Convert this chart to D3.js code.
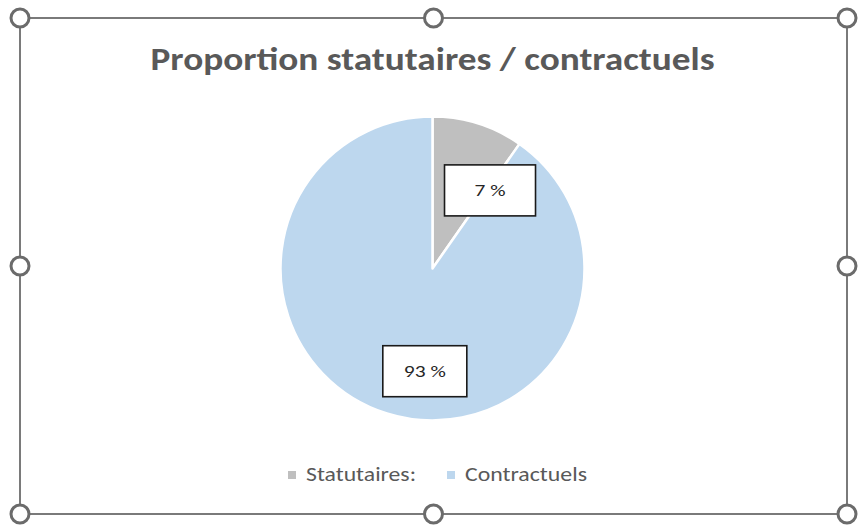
<!DOCTYPE html>
<html>
<head>
<meta charset="utf-8">
<script src="https://cdn.jsdelivr.net/npm/d3@7"></script>
<style>
  html, body { margin: 0; padding: 0; background: #fff; }
  svg { display: block; }
</style>
</head>
<body>
<div id="chart"></div>
<script>
// Pie chart — share of statutory vs contract staff (Excel-style, with selection frame).

const categories = ["Statutaires:", "Contractuels"];
const shares = [9.7, 90.3];            // slice sizes as drawn
const labelTexts = ["7 %", "93 %"];    // data labels as printed on the chart
const colors = ["#bfbfbf", "#bdd7ee"];
const title = "Proportion statutaires / contractuels";

(function () {
  "use strict";
  const W = 862, H = 528;
  const frame = { x0: 20, y0: 18, x1: 847, y1: 514 };
  const cx = 432.5, cy = 268.5, R = 152;
  const font = "Calibri, Carlito, 'Noto Sans', 'Liberation Sans', sans-serif";

  const svg = d3.select("#chart").append("svg").attr("width", W).attr("height", H);

  // chart area border
  svg.append("rect")
    .attr("x", frame.x0).attr("y", frame.y0)
    .attr("width", frame.x1 - frame.x0).attr("height", frame.y1 - frame.y0)
    .attr("fill", "#fff").attr("stroke", "#7a7a7a").attr("stroke-width", 2);

  // title
  svg.append("text")
    .attr("x", cx).attr("y", 70).attr("text-anchor", "middle")
    .attr("fill", "#595959").style("font-family", font)
    .style("font-size", "32px").style("font-weight", 700)
    .attr("textLength", 564).attr("lengthAdjust", "spacingAndGlyphs")
    .text(title);

  // pie
  const data = categories.map((c, i) => ({ name: c, value: shares[i], label: labelTexts[i], color: colors[i] }));
  const pie = d3.pie().value((d) => d.value).sort(null);
  const arc = d3.arc().innerRadius(0).outerRadius(R);
  const arcs = pie(data);
  const g = svg.append("g").attr("transform", `translate(${cx},${cy})`);
  g.selectAll("path").data(arcs).join("path")
    .attr("d", arc).attr("fill", (d) => d.data.color)
    .attr("stroke", "#fff").attr("stroke-width", 2.5).attr("stroke-linejoin", "round");

  // data labels: boxes placed along each slice (nudged like the dragged Excel labels)
  const labelPlace = [
    { r: 97, angleShift: 0.33, w: 91, tw: 31 },
    { r: 103, angleShift: -0.23, w: 84, tw: 42 },
  ];
  arcs.forEach((a, i) => {
    const p = labelPlace[i];
    const ang = (a.startAngle + a.endAngle) / 2 + p.angleShift;
    const lx = Math.sin(ang) * p.r, ly = -Math.cos(ang) * p.r;
    const bh = 51;
    g.append("rect")
      .attr("x", lx - p.w / 2).attr("y", ly - bh / 2)
      .attr("width", p.w).attr("height", bh)
      .attr("fill", "#fff").attr("stroke", "#1a1a1a").attr("stroke-width", 1.6);
    g.append("text")
      .attr("x", lx).attr("y", ly + 6).attr("text-anchor", "middle")
      .attr("fill", "#262626").style("font-family", font).style("font-size", "17px")
      .attr("textLength", p.tw).attr("lengthAdjust", "spacingAndGlyphs")
      .text(a.data.label);
  });

  // legend
  const legendX = [288, 447], legendTextW = [110, 122];
  const lg = svg.append("g");
  data.forEach((d, i) => {
    lg.append("rect").attr("x", legendX[i]).attr("y", 471).attr("width", 8).attr("height", 8).attr("fill", d.color);
    lg.append("text")
      .attr("x", legendX[i] + 18).attr("y", 481)
      .attr("fill", "#595959").style("font-family", font).style("font-size", "20px")
      .attr("textLength", legendTextW[i]).attr("lengthAdjust", "spacingAndGlyphs")
      .text(d.name);
  });

  // selection handles
  const mx = (frame.x0 + frame.x1) / 2, my = (frame.y0 + frame.y1) / 2;
  const handles = [
    [frame.x0, frame.y0], [mx, frame.y0], [frame.x1, frame.y0],
    [frame.x0, my], [frame.x1, my],
    [frame.x0, frame.y1], [mx, frame.y1], [frame.x1, frame.y1],
  ];
  svg.selectAll("circle.handle").data(handles).join("circle")
    .attr("class", "handle")
    .attr("cx", (d) => d[0]).attr("cy", (d) => d[1]).attr("r", 9)
    .attr("fill", "#fff").attr("stroke", "#6b6b6b").attr("stroke-width", 3);
})();
</script>
</body>
</html>
